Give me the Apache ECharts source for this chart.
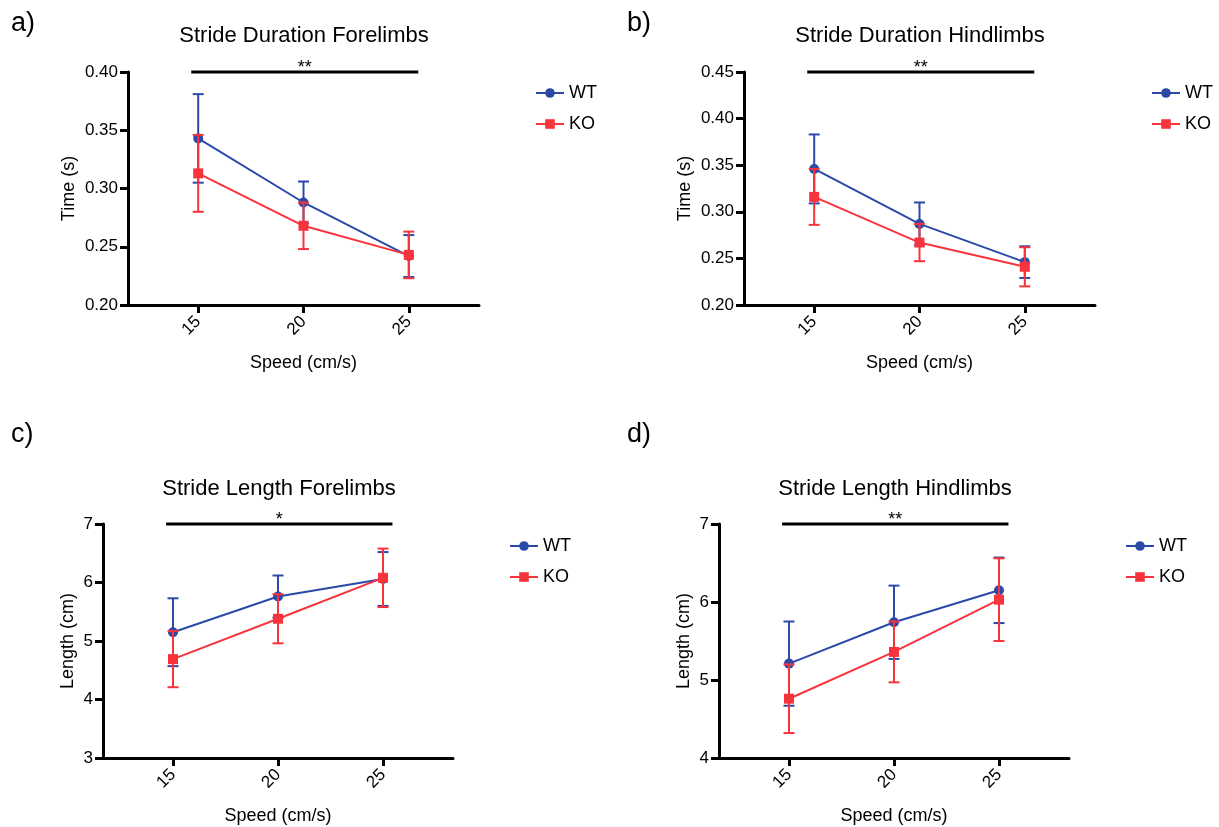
<!DOCTYPE html>
<html>
<head>
<meta charset="utf-8">
<script src="https://cdn.jsdelivr.net/npm/echarts@6/dist/echarts.min.js"></script>
<style>
html,body{margin:0;padding:0;background:#fff;}
#c{width:1219px;height:827px;}
</style>
</head>
<body>
<div id="c"></div>
<script>
// ---------- data ----------
const speeds = [15, 20, 25];
const xTicks = [15, 20, 25];
const xMin = 11.6667, xMax = 28.3333;

const panelLabels = ['a)', 'b)', 'c)', 'd)'];
const titles = ['Stride Duration Forelimbs', 'Stride Duration Hindlimbs', 'Stride Length Forelimbs', 'Stride Length Hindlimbs'];
const yNames = ['Time (s)', 'Time (s)', 'Length (cm)', 'Length (cm)'];
const xName = 'Speed (cm/s)';

// a) Stride Duration Forelimbs
const durForeWT = [0.343, 0.288, 0.242];
const durForeWTErr = [0.038, 0.018, 0.018];
const durForeKO = [0.313, 0.268, 0.243];
const durForeKOErr = [0.033, 0.020, 0.020];
// b) Stride Duration Hindlimbs
const durHindWT = [0.346, 0.287, 0.246];
const durHindWTErr = [0.037, 0.023, 0.017];
const durHindKO = [0.316, 0.267, 0.241];
const durHindKOErr = [0.030, 0.020, 0.021];
// c) Stride Length Forelimbs
const lenForeWT = [5.15, 5.76, 6.06];
const lenForeWTErr = [0.58, 0.36, 0.46];
const lenForeKO = [4.69, 5.38, 6.08];
const lenForeKOErr = [0.48, 0.42, 0.50];
// d) Stride Length Hindlimbs
const lenHindWT = [5.21, 5.74, 6.15];
const lenHindWTErr = [0.54, 0.47, 0.42];
const lenHindKO = [4.76, 5.36, 6.03];
const lenHindKOErr = [0.44, 0.39, 0.53];

// y axes
const yMins = [0.20, 0.20, 3, 4];
const yMaxs = [0.40, 0.45, 7, 7];
const yIntervals = [0.05, 0.05, 1, 1];
const yDecimals = [2, 2, 0, 0];

// significance bars
const sigStart = [14.67, 14.67, 14.67, 14.67];
const sigEnd = [25.45, 25.45, 25.45, 25.45];
const sigLevel = [0.40, 0.45, 7, 7];
const sigLabels = ['**', '**', '*', '**'];

// ---------- styling / layout ----------
const FONT = "'Liberation Sans', Arial, Helvetica, sans-serif";
const BLUE = '#2B4AA8';
const RED = '#F7343C';
const grids = [
  {left: 128, top: 72, width: 351, height: 233},
  {left: 744, top: 72, width: 351, height: 233},
  {left: 103, top: 524, width: 350, height: 234},
  {left: 719, top: 524, width: 350, height: 234}
];
const titlePos = [
  {x: 299, y: 20}, {x: 915, y: 20}, {x: 274, y: 473}, {x: 890, y: 473}
];
const labelPos = [
  {x: 6, y: 5}, {x: 622, y: 5}, {x: 6, y: 416}, {x: 622, y: 416}
];
const legendPos = [
  {x: 530, y: 79}, {x: 1146, y: 79}, {x: 504, y: 532}, {x: 1120, y: 532}
];
const yNameGap = [50, 50, 26, 26];

const wtVals = [durForeWT, durHindWT, lenForeWT, lenHindWT];
const wtErrs = [durForeWTErr, durHindWTErr, lenForeWTErr, lenHindWTErr];
const koVals = [durForeKO, durHindKO, lenForeKO, lenHindKO];
const koErrs = [durForeKOErr, durHindKOErr, lenForeKOErr, lenHindKOErr];

function errData(vals, errs) {
  return speeds.map((s, i) => [s, vals[i] - errs[i], vals[i] + errs[i]]);
}
function errRender(color) {
  return function (params, api) {
    const x = api.value(0);
    const lo = api.coord([x, api.value(1)]);
    const hi = api.coord([x, api.value(2)]);
    const hw = 5.5;
    const style = {stroke: color, lineWidth: 2};
    return {
      type: 'group',
      children: [
        {type: 'line', shape: {x1: lo[0], y1: lo[1], x2: hi[0], y2: hi[1]}, style: style},
        {type: 'line', shape: {x1: lo[0] - hw, y1: lo[1], x2: lo[0] + hw, y2: lo[1]}, style: style},
        {type: 'line', shape: {x1: hi[0] - hw, y1: hi[1], x2: hi[0] + hw, y2: hi[1]}, style: style}
      ]
    };
  };
}
function sigRender(label) {
  return function (params, api) {
    const y = api.value(2);
    const p1 = api.coord([api.value(0), y]);
    const p2 = api.coord([api.value(1), y]);
    return {
      type: 'group',
      children: [
        {type: 'line', shape: {x1: p1[0], y1: p1[1], x2: p2[0], y2: p2[1]}, style: {stroke: '#000', lineWidth: 3}},
        {type: 'text', style: {text: label, x: (p1[0] + p2[0]) / 2, y: p1[1] + 5, align: 'center', verticalAlign: 'bottom', font: '18px ' + FONT, fill: '#000'}}
      ]
    };
  };
}

const option = {
  backgroundColor: '#fff',
  animation: false,
  textStyle: {fontFamily: FONT, color: '#000'},
  title: [],
  legend: [],
  grid: [],
  xAxis: [],
  yAxis: [],
  series: []
};

for (let p = 0; p < 4; p++) {
  option.grid.push(Object.assign({containLabel: false}, grids[p]));
  option.title.push({
    text: titles[p], left: titlePos[p].x, top: titlePos[p].y, textAlign: 'center',
    textStyle: {fontFamily: FONT, fontSize: 22, fontWeight: 'normal', color: '#000'}
  });
  option.title.push({
    text: panelLabels[p], left: labelPos[p].x, top: labelPos[p].y,
    textStyle: {fontFamily: FONT, fontSize: 27, fontWeight: 'normal', color: '#000'}
  });
  option.legend.push({
    data: ['WT', 'KO'], orient: 'vertical', left: legendPos[p].x, top: legendPos[p].y,
    itemWidth: 28, itemHeight: 12, itemGap: 13, selectedMode: false,
    textStyle: {fontFamily: FONT, fontSize: 18, color: '#000'}
  });
  option.xAxis.push({
    type: 'value', gridIndex: p, min: xMin, max: xMax,
    name: xName, nameLocation: 'middle', nameGap: 49,
    nameTextStyle: {fontFamily: FONT, fontSize: 18, color: '#000'},
    axisLine: {show: true, onZero: false, lineStyle: {color: '#000', width: 3}},
    axisTick: {show: true, customValues: xTicks, length: 8, lineStyle: {color: '#000', width: 3}},
    axisLabel: {customValues: xTicks, rotate: 45, margin: 14, fontFamily: FONT, fontSize: 17, color: '#000'},
    splitLine: {show: false}
  });
  const dec = yDecimals[p];
  option.yAxis.push({
    type: 'value', gridIndex: p, min: yMins[p], max: yMaxs[p], interval: yIntervals[p],
    name: yNames[p], nameLocation: 'middle', nameGap: yNameGap[p],
    nameTextStyle: {fontFamily: FONT, fontSize: 18, color: '#000'},
    axisLine: {show: true, onZero: false, lineStyle: {color: '#000', width: 3}},
    axisTick: {show: true, length: 8, lineStyle: {color: '#000', width: 3}},
    axisLabel: {formatter: v => v.toFixed(dec), margin: 10, fontFamily: FONT, fontSize: 17, color: '#000'},
    splitLine: {show: false}
  });
  // WT error bars
  option.series.push({
    type: 'custom', name: 'WTerr', xAxisIndex: p, yAxisIndex: p, z: 3,
    renderItem: errRender(BLUE), data: errData(wtVals[p], wtErrs[p])
  });
  option.series.push({
    type: 'line', name: 'WT', xAxisIndex: p, yAxisIndex: p, z: 4,
    data: speeds.map((s, i) => [s, wtVals[p][i]]),
    color: BLUE, symbol: 'circle', symbolSize: 10, showSymbol: true,
    lineStyle: {color: BLUE, width: 2}, itemStyle: {color: BLUE}
  });
  option.series.push({
    type: 'custom', name: 'KOerr', xAxisIndex: p, yAxisIndex: p, z: 5,
    renderItem: errRender(RED), data: errData(koVals[p], koErrs[p])
  });
  option.series.push({
    type: 'line', name: 'KO', xAxisIndex: p, yAxisIndex: p, z: 6,
    data: speeds.map((s, i) => [s, koVals[p][i]]),
    color: RED, symbol: 'rect', symbolSize: 10, showSymbol: true,
    lineStyle: {color: RED, width: 2}, itemStyle: {color: RED}
  });
  option.series.push({
    type: 'custom', name: 'sig' + p, xAxisIndex: p, yAxisIndex: p, z: 7, clip: false,
    renderItem: sigRender(sigLabels[p]), data: [[sigStart[p], sigEnd[p], sigLevel[p]]]
  });
}

const chart = echarts.init(document.getElementById('c'), null, {renderer: 'canvas'});
chart.setOption(option);
</script>
</body>
</html>
